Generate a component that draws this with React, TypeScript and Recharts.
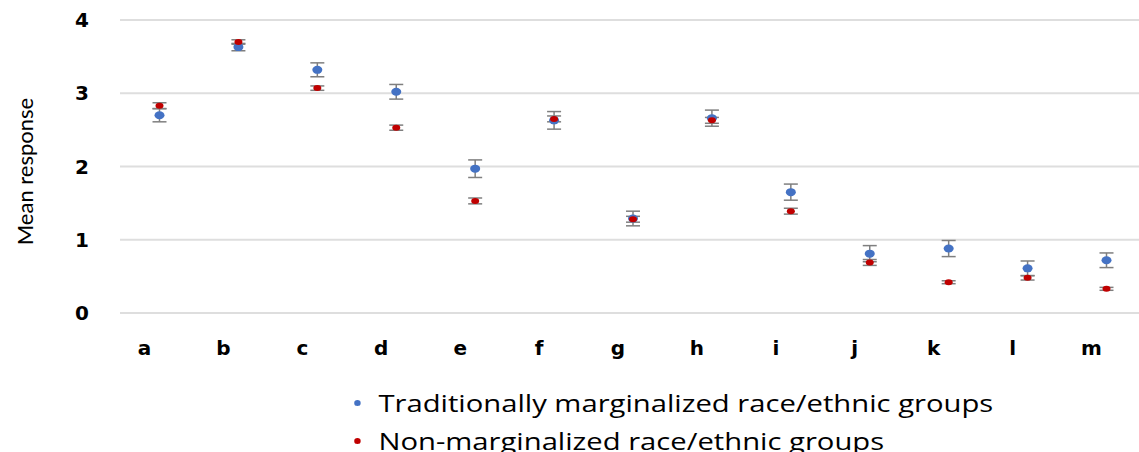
import { ComposedChart, Scatter, XAxis, YAxis, CartesianGrid, ErrorBar } from 'recharts'

const categories = ['a', 'b', 'c', 'd', 'e', 'f', 'g', 'h', 'i', 'j', 'k', 'l', 'm']
const tradMeans = [2.70, 3.63, 3.32, 3.02, 1.97, 2.63, 1.29, 2.66, 1.65, 0.81, 0.88, 0.61, 0.72]
const tradErrors = [0.09, 0.05, 0.095, 0.1, 0.12, 0.12, 0.1, 0.11, 0.11, 0.11, 0.11, 0.1, 0.1]
const nonMeans = [2.83, 3.70, 3.07, 2.53, 1.53, 2.65, 1.28, 2.63, 1.39, 0.69, 0.42, 0.48, 0.33]
const nonErrors = [0.04, 0.03, 0.03, 0.035, 0.04, 0.04, 0.04, 0.04, 0.04, 0.04, 0.02, 0.03, 0.02]
const yTicks = [0, 1, 2, 3, 4]

const seriesNames = ['Traditionally marginalized race/ethnic groups', 'Non-marginalized race/ethnic groups']
const BLUE = '#4472c4'
const RED = '#c00000'

const rows = categories.map((cat, i) => ({
  cat,
  trad: tradMeans[i],
  tradErr: tradErrors[i],
  non: nonMeans[i],
  nonErr: nonErrors[i],
}))

const dot = (fill: string, rx: number, ry: number) => (props: any) =>
  <ellipse cx={props.cx} cy={props.cy} rx={rx} ry={ry} fill={fill} />

const tickStyle = { fill: '#000', fontSize: 20, fontWeight: 700, fontFamily: 'DejaVu Sans' }

// the source draws the category letters a bit left of their points
const XTick = (props: any) => (
  <text x={props.x - 15} y={props.y} dy="0.71em" textAnchor="middle" {...tickStyle}>
    {props.payload.value}
  </text>
)

const YLabel = (props: any) => {
  const vb = props.viewBox
  const cy = vb.y + vb.height / 2 + 5
  return (
    <text x={24} y={cy} transform={`rotate(-90, 24, ${cy})`} textAnchor="middle" dominantBaseline="central"
      fill="#000" fontSize={22} fontFamily="Lato">
      Mean response
    </text>
  )
}

export default function App() {
  return (
    <div style={{ position: 'fixed', left: 0, top: 0, width: 1139, height: 452, overflow: 'hidden', background: '#fff' }}>
      <ComposedChart width={1150} height={452} data={rows} margin={{ top: 20, right: 4, bottom: 0, left: 0 }}>
        <CartesianGrid vertical={false} stroke="#dedede" strokeWidth={2} />
        <XAxis
          dataKey="cat"
          type="category"
          padding={{ left: 39.5, right: 39.5 }}
          axisLine={false}
          tickLine={false}
          tickSize={0}
          tickMargin={28}
          height={139}
          tick={<XTick />}
        />
        <YAxis
          domain={[0, 4]}
          ticks={yTicks}
          width={120}
          axisLine={false}
          tickLine={false}
          tickSize={0}
          tickMargin={31}
          tick={tickStyle}
          label={{ content: YLabel }}
        />
        <Scatter dataKey="trad" fill={BLUE} shape={dot(BLUE, 5, 4)} isAnimationActive={false}>
          <ErrorBar dataKey="tradErr" direction="y" width={7} stroke="#7f7f7f" strokeWidth={1.5} />
        </Scatter>
        <Scatter dataKey="non" fill={RED} shape={dot(RED, 4, 3)} isAnimationActive={false}>
          <ErrorBar dataKey="nonErr" direction="y" width={7} stroke="#7f7f7f" strokeWidth={1.5} />
        </Scatter>
      </ComposedChart>

      {/* legend, stretched sideways like the source image; its 2nd line runs off the bottom there too */}
      <div style={{
        position: 'absolute', left: 353, top: 384, fontFamily: 'Open Sans', fontSize: 23, color: '#000',
        transform: 'scaleX(1.27)', transformOrigin: 'left top', whiteSpace: 'nowrap',
      }}>
        {seriesNames.map((name, i) => (
          <div key={name} style={{ display: 'flex', alignItems: 'center', height: 38 }}>
            <span style={{ width: 5, height: 6, borderRadius: 3, background: i === 0 ? BLUE : RED, marginRight: 14, marginLeft: 1 }} />
            <span>{name}</span>
          </div>
        ))}
      </div>
    </div>
  )
}
